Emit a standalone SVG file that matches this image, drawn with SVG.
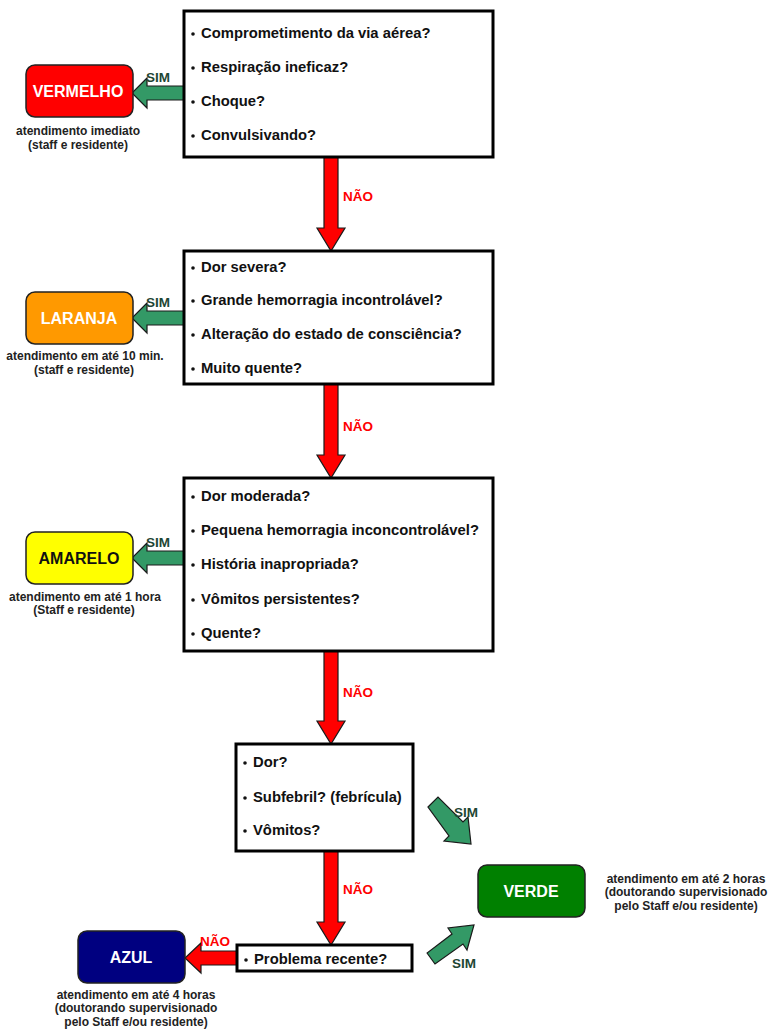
<svg xmlns="http://www.w3.org/2000/svg" width="769" height="1029" viewBox="0 0 769 1029">
  <defs>
    <style>
      .q { fill: #fff; stroke: #000; stroke-width: 3; }
      .qt { font-family: "Liberation Sans", Arial, sans-serif; font-weight: bold; font-size: 14.8px; fill: #111; }
      .bl { fill: #111; }
      .lvl { stroke: #222; stroke-width: 1.5; }
      .lt { font-family: "Liberation Sans", Arial, sans-serif; font-weight: bold; font-size: 16px; text-anchor: middle; }
      .note { font-family: "Liberation Sans", Arial, sans-serif; font-weight: bold; font-size: 12px; fill: #222; text-anchor: middle; }
      .yes { fill: #339966; stroke: #1a1a1a; stroke-width: 1.2; }
      .no { fill: #ff0000; stroke: #1a1a1a; stroke-width: 1.2; }
      .sim { font-family: "Liberation Sans", Arial, sans-serif; font-weight: bold; font-size: 13.5px; fill: #1e4634; }
      .nao { font-family: "Liberation Sans", Arial, sans-serif; font-weight: bold; font-size: 13.5px; fill: #ff0000; }
    </style>
  </defs>
  <rect width="769" height="1029" fill="#fff"/>

  <!-- connectors -->
  <g id="connectors">
    <!-- SIM arrows to the colour levels -->
    <polygon class="yes" points="184,86 147,86 147,78 132,93 147,108 147,100 184,100"/>
    <polygon class="yes" points="184,311 147,311 147,303 132,318 147,333 147,325 184,325"/>
    <polygon class="yes" points="184,551 147,551 147,543 132,558 147,573 147,565 184,565"/>
    <!-- NÃO arrows down -->
    <polygon class="no" points="324,157 338,157 338,228 345,228 331,251 317,228 324,228"/>
    <polygon class="no" points="324,384 338,384 338,455 345,455 331,478 317,455 324,455"/>
    <polygon class="no" points="324,651 338,651 338,721 345,721 331,744 317,721 324,721"/>
    <polygon class="no" points="324,851 338,851 338,922 345,922 331,945 317,922 324,922"/>
    <!-- NÃO arrow to AZUL -->
    <polygon class="no" points="237,951 201,951 201,943 185,958 201,973 201,965 237,965"/>
    <!-- SIM arrows to VERDE -->
    <polygon class="yes" points="428,807 438,797 463,822 468,817 471,844 444,841 449,836"/>
    <polygon class="yes" points="427,953 435,964 463,944 467,950 474,925 448,928 452,934"/>
    <text class="sim" x="146" y="82">SIM</text>
    <text class="sim" x="146" y="307">SIM</text>
    <text class="sim" x="146" y="547">SIM</text>
    <text class="sim" x="454" y="817">SIM</text>
    <text class="sim" x="452" y="968">SIM</text>
    <text class="nao" x="343" y="201">NÃO</text>
    <text class="nao" x="343" y="431">NÃO</text>
    <text class="nao" x="343" y="697">NÃO</text>
    <text class="nao" x="343" y="894">NÃO</text>
    <text class="nao" x="200" y="946">NÃO</text>
  </g>

  <!-- question boxes -->
  <g id="q1">
    <rect class="q" x="184" y="11" width="309" height="146"/>
    <circle class="bl" cx="193" cy="34" r="1.8"/>
    <circle class="bl" cx="193" cy="68" r="1.8"/>
    <circle class="bl" cx="193" cy="102" r="1.8"/>
    <circle class="bl" cx="193" cy="136" r="1.8"/>
    <text class="qt" x="201" y="38">Comprometimento da via aérea?</text>
    <text class="qt" x="201" y="72">Respiração ineficaz?</text>
    <text class="qt" x="201" y="106">Choque?</text>
    <text class="qt" x="201" y="140">Convulsivando?</text>
  </g>
  <g id="q2">
    <rect class="q" x="184" y="251" width="309" height="133"/>
    <circle class="bl" cx="193" cy="268" r="1.8"/>
    <circle class="bl" cx="193" cy="301" r="1.8"/>
    <circle class="bl" cx="193" cy="335" r="1.8"/>
    <circle class="bl" cx="193" cy="369" r="1.8"/>
    <text class="qt" x="201" y="272">Dor severa?</text>
    <text class="qt" x="201" y="305">Grande hemorragia incontrolável?</text>
    <text class="qt" x="201" y="339">Alteração do estado de consciência?</text>
    <text class="qt" x="201" y="373">Muito quente?</text>
  </g>
  <g id="q3">
    <rect class="q" x="184" y="478" width="309" height="173"/>
    <circle class="bl" cx="193" cy="497" r="1.8"/>
    <circle class="bl" cx="193" cy="531" r="1.8"/>
    <circle class="bl" cx="193" cy="565" r="1.8"/>
    <circle class="bl" cx="193" cy="600" r="1.8"/>
    <circle class="bl" cx="193" cy="634" r="1.8"/>
    <text class="qt" x="201" y="501">Dor moderada?</text>
    <text class="qt" x="201" y="535">Pequena hemorragia inconcontrolável?</text>
    <text class="qt" x="201" y="569">História inapropriada?</text>
    <text class="qt" x="201" y="604">Vômitos persistentes?</text>
    <text class="qt" x="201" y="638">Quente?</text>
  </g>
  <g id="q4">
    <rect class="q" x="236" y="744" width="177" height="107"/>
    <circle class="bl" cx="245" cy="763" r="1.8"/>
    <circle class="bl" cx="245" cy="798" r="1.8"/>
    <circle class="bl" cx="245" cy="831" r="1.8"/>
    <text class="qt" x="253" y="767">Dor?</text>
    <text class="qt" x="253" y="802">Subfebril? (febrícula)</text>
    <text class="qt" x="253" y="835">Vômitos?</text>
  </g>
  <g id="q5">
    <rect class="q" x="237" y="945" width="175" height="26"/>
    <circle class="bl" cx="246" cy="960" r="1.8"/>
    <text class="qt" x="254" y="964">Problema recente?</text>
  </g>

  <!-- colour levels -->
  <g id="vermelho">
    <rect class="lvl" x="26" y="65" width="107" height="52" rx="9" fill="#ff0000"/>
    <text class="lt" x="78" y="97" fill="#fff">VERMELHO</text>
    <text class="note" x="78" y="135">atendimento imediato</text>
    <text class="note" x="78" y="149">(staff e residente)</text>
  </g>
  <g id="laranja">
    <rect class="lvl" x="26" y="292" width="107" height="52" rx="9" fill="#ff9900"/>
    <text class="lt" x="79" y="324" fill="#fff">LARANJA</text>
    <text class="note" x="85" y="360">atendimento em até 10 min.</text>
    <text class="note" x="84" y="374">(staff e residente)</text>
  </g>
  <g id="amarelo">
    <rect class="lvl" x="26" y="532" width="107" height="52" rx="9" fill="#ffff00"/>
    <text class="lt" x="79" y="564" fill="#111">AMARELO</text>
    <text class="note" x="85" y="601">atendimento em até 1 hora</text>
    <text class="note" x="84" y="614">(Staff e residente)</text>
  </g>
  <g id="verde">
    <rect class="lvl" x="478" y="865" width="107" height="52" rx="9" fill="#008000"/>
    <text class="lt" x="531" y="897" fill="#fff">VERDE</text>
    <text class="note" x="686" y="883">atendimento em até 2 horas</text>
    <text class="note" x="686" y="896">(doutorando supervisionado</text>
    <text class="note" x="686" y="910">pelo Staff e/ou residente)</text>
  </g>
  <g id="azul">
    <rect class="lvl" x="78" y="931" width="107" height="52" rx="9" fill="#000080"/>
    <text class="lt" x="131" y="963" fill="#fff">AZUL</text>
    <text class="note" x="136" y="999">atendimento em até 4 horas</text>
    <text class="note" x="136" y="1012">(doutorando supervisionado</text>
    <text class="note" x="136" y="1026">pelo Staff e/ou residente)</text>
  </g>
</svg>
